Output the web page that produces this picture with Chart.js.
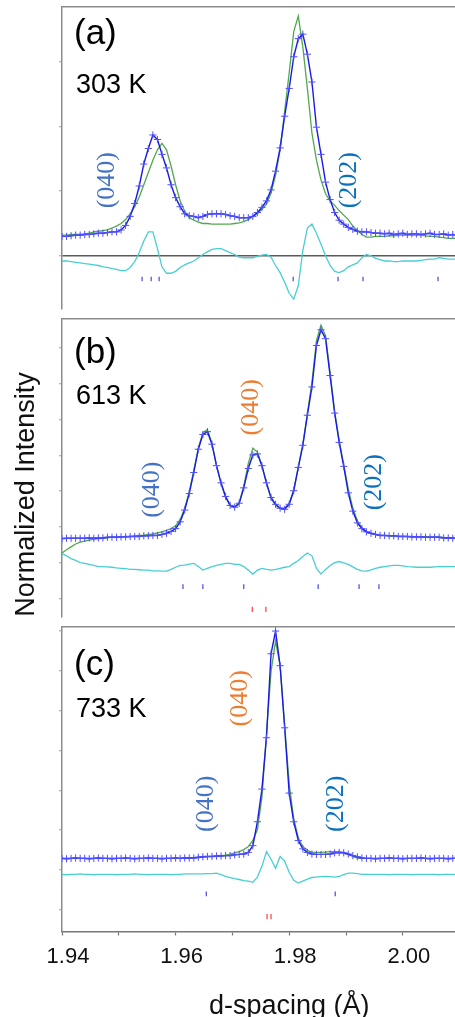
<!DOCTYPE html>
<html><head><meta charset="utf-8">
<script src="https://cdn.jsdelivr.net/npm/chart.js@4.4.1/dist/chart.umd.min.js"></script>
<style>
html,body{margin:0;padding:0;background:#fff;overflow:hidden;}
#wrap{position:relative;width:455px;height:1017px;overflow:hidden;background:#fff;}
#wrap canvas{position:absolute;left:0;}
</style></head><body>
<div id="wrap">
<canvas id="cA" width="560" height="314" style="top:0px"></canvas>
<canvas id="cB" width="560" height="308" style="top:314px"></canvas>
<canvas id="cC" width="560" height="401" style="top:622px"></canvas>
</div>
<script>
const xTickValues = [1.94,1.95,1.96,1.97,1.98,1.99,2.00,2.01,2.02];
const xTickLabels = ['1.94','','1.96','','1.98','','2.00','','2.02'];
const xTitle = 'd-spacing (Å)';
const yTitle = 'Normalized Intensity';

const dSpacing = [
1.9400,1.9408,1.9416,1.9424,1.9432,1.9440,1.9448,1.9456,1.9464,1.9472,
1.9480,1.9488,1.9496,1.9504,1.9512,1.9520,1.9528,1.9536,1.9544,1.9552,
1.9560,1.9568,1.9576,1.9584,1.9592,1.9600,1.9608,1.9616,1.9624,1.9632,
1.9640,1.9648,1.9656,1.9664,1.9672,1.9680,1.9688,1.9696,1.9704,1.9712,
1.9720,1.9728,1.9736,1.9744,1.9752,1.9760,1.9768,1.9776,1.9784,1.9792,
1.9800,1.9808,1.9816,1.9824,1.9832,1.9840,1.9848,1.9856,1.9864,1.9872,
1.9880,1.9888,1.9896,1.9904,1.9912,1.9920,1.9928,1.9936,1.9944,1.9952,
1.9960,1.9968,1.9976,1.9984,1.9992,2.0000,2.0008,2.0016,2.0024,2.0032,
2.0040,2.0048,2.0056,2.0064,2.0072,2.0080,2.0088,2.0096,2.0104];

// Panel (a) 303 K
const obsA = [
0.30,0.30,0.31,0.32,0.32,0.33,0.33,0.34,0.35,0.35,
0.36,0.37,0.37,0.40,0.47,0.61,0.81,1.08,1.42,1.66,
1.87,1.80,1.57,1.36,1.10,0.90,0.76,0.65,0.62,0.61,
0.59,0.61,0.64,0.65,0.65,0.65,0.64,0.62,0.61,0.59,
0.59,0.59,0.61,0.67,0.75,0.85,1.02,1.31,1.67,2.16,
2.59,3.08,3.36,3.43,3.12,2.69,1.99,1.57,1.14,0.87,
0.67,0.55,0.49,0.44,0.41,0.38,0.37,0.37,0.36,0.35,
0.35,0.34,0.35,0.33,0.34,0.35,0.33,0.34,0.34,0.33,
0.34,0.35,0.33,0.33,0.34,0.32,0.33,0.32,0.32];
const calcA = [
0.32,0.32,0.33,0.33,0.33,0.34,0.35,0.37,0.38,0.39,
0.40,0.43,0.46,0.50,0.56,0.65,0.76,0.91,1.10,1.29,
1.48,1.64,1.74,1.64,1.39,1.10,0.85,0.69,0.59,0.55,
0.52,0.50,0.50,0.49,0.49,0.49,0.49,0.49,0.50,0.51,
0.53,0.56,0.61,0.65,0.72,0.80,0.97,1.25,1.64,2.24,
2.83,3.47,3.71,3.23,2.59,1.90,1.48,1.17,0.96,0.85,
0.78,0.70,0.63,0.56,0.46,0.39,0.33,0.29,0.29,0.30,
0.30,0.30,0.31,0.31,0.32,0.32,0.32,0.32,0.32,0.32,
0.31,0.30,0.30,0.29,0.28,0.27,0.27,0.27,0.27];
const diffA = [
-0.08,-0.08,-0.09,-0.10,-0.11,-0.12,-0.13,-0.14,-0.15,-0.17,
-0.18,-0.20,-0.21,-0.23,-0.23,-0.18,-0.09,0.05,0.23,0.37,
0.37,0.11,-0.17,-0.27,-0.27,-0.24,-0.18,-0.14,-0.11,-0.08,
-0.03,0.02,0.06,0.10,0.11,0.11,0.08,0.05,0.02,-0.02,
-0.03,-0.03,-0.03,-0.01,0.01,0.02,-0.02,-0.15,-0.26,-0.41,
-0.58,-0.67,-0.46,0.08,0.43,0.49,0.35,0.18,0.00,-0.15,
-0.24,-0.26,-0.23,-0.17,-0.14,-0.11,-0.03,0.02,0.00,-0.04,
-0.06,-0.08,-0.08,-0.09,-0.09,-0.08,-0.08,-0.08,-0.08,-0.07,
-0.06,-0.05,-0.05,-0.03,-0.04,-0.05,-0.05,-0.05,-0.05];
const reflBlueA = [1.9541,1.9557,1.9571,1.9807,1.9886,1.9930,2.0062];
const reflRedA = [];

// Panel (b) 613 K
const obsB = [
1.67,1.68,1.68,1.68,1.68,1.68,1.69,1.68,1.69,1.69,
1.71,1.71,1.71,1.72,1.72,1.73,1.73,1.73,1.75,1.75,
1.76,1.76,1.79,1.82,1.87,1.95,2.14,2.47,2.93,3.52,
4.17,4.58,4.66,4.31,3.71,3.23,2.85,2.60,2.55,2.66,
3.09,3.63,4.01,4.04,3.71,3.23,2.82,2.63,2.52,2.49,
2.63,3.01,3.66,4.28,5.12,5.91,7.07,7.51,7.26,6.23,
5.18,4.36,3.69,2.95,2.44,2.11,1.95,1.86,1.82,1.79,
1.76,1.76,1.75,1.75,1.73,1.73,1.73,1.72,1.72,1.72,
1.71,1.71,1.71,1.71,1.69,1.69,1.68,1.68,1.68];
const calcB = [
1.27,1.36,1.44,1.52,1.57,1.60,1.63,1.65,1.67,1.68,
1.69,1.71,1.71,1.72,1.73,1.73,1.75,1.76,1.77,1.79,
1.80,1.83,1.86,1.90,1.95,2.03,2.20,2.52,2.98,3.58,
4.20,4.63,4.72,4.34,3.71,3.20,2.82,2.60,2.55,2.68,
3.14,3.77,4.20,4.09,3.71,3.20,2.79,2.60,2.52,2.52,
2.66,3.04,3.66,4.31,5.18,6.04,7.21,7.64,7.34,6.31,
5.23,4.42,3.74,3.06,2.52,2.17,1.98,1.87,1.82,1.79,
1.77,1.76,1.75,1.75,1.74,1.74,1.73,1.73,1.72,1.72,
1.72,1.71,1.71,1.71,1.70,1.70,1.69,1.69,1.69];
const diffB = [
1.25,1.19,1.11,1.06,1.00,0.98,0.95,0.92,0.89,0.89,
0.88,0.87,0.85,0.84,0.83,0.81,0.81,0.80,0.79,0.79,
0.77,0.77,0.76,0.76,0.81,0.87,0.92,0.93,0.96,0.98,
0.89,0.79,0.84,0.89,0.92,0.95,0.98,0.98,0.95,0.95,
0.89,0.79,0.68,0.79,0.84,0.81,0.79,0.81,0.84,0.87,
0.89,0.98,1.06,1.17,1.27,1.19,0.84,0.68,0.81,0.92,
1.00,1.03,0.99,0.95,0.88,0.81,0.77,0.76,0.80,0.84,
0.87,0.89,0.91,0.92,0.92,0.91,0.89,0.88,0.87,0.87,
0.87,0.87,0.88,0.89,0.89,0.89,0.89,0.89,0.89];
const reflBlueB = [1.9613,1.9648,1.9720,1.9851,1.9923,1.9958];
const reflRedB = [1.9735,1.9759];

// Panel (c) 733 K
const obsC = [
1.29,1.28,1.29,1.30,1.29,1.29,1.28,1.29,1.30,1.29,
1.29,1.28,1.29,1.29,1.30,1.29,1.28,1.29,1.29,1.30,
1.29,1.29,1.28,1.29,1.29,1.30,1.29,1.30,1.30,1.30,
1.32,1.33,1.34,1.34,1.35,1.35,1.36,1.36,1.38,1.39,
1.40,1.44,1.61,2.21,3.03,4.32,6.43,7.00,6.13,4.57,
2.93,2.21,1.74,1.53,1.44,1.40,1.39,1.39,1.39,1.40,
1.43,1.44,1.43,1.40,1.36,1.33,1.30,1.29,1.29,1.28,
1.29,1.29,1.30,1.29,1.29,1.28,1.29,1.29,1.29,1.30,
1.29,1.28,1.29,1.29,1.29,1.28,1.29,1.29,1.29];
const calcC = [
1.29,1.29,1.29,1.29,1.29,1.29,1.29,1.29,1.29,1.29,
1.29,1.29,1.29,1.29,1.29,1.29,1.29,1.29,1.29,1.29,
1.29,1.29,1.29,1.29,1.29,1.29,1.29,1.30,1.30,1.31,
1.31,1.32,1.33,1.33,1.34,1.36,1.37,1.40,1.43,1.46,
1.51,1.59,1.74,2.01,2.83,4.44,5.98,6.75,6.13,4.64,
3.15,2.28,1.81,1.59,1.49,1.44,1.44,1.44,1.45,1.46,
1.46,1.46,1.44,1.39,1.34,1.30,1.29,1.29,1.29,1.29,
1.29,1.29,1.29,1.29,1.29,1.29,1.29,1.29,1.29,1.29,
1.29,1.29,1.29,1.29,1.29,1.29,1.29,1.29,1.29];
const diffC = [
0.89,0.88,0.89,0.89,0.90,0.89,0.89,0.88,0.89,0.89,
0.89,0.89,0.88,0.89,0.89,0.89,0.90,0.89,0.89,0.88,
0.89,0.89,0.89,0.89,0.88,0.89,0.89,0.90,0.90,0.90,
0.90,0.90,0.91,0.91,0.92,0.88,0.84,0.81,0.78,0.76,
0.73,0.72,0.69,0.82,1.09,1.46,1.27,1.04,1.34,1.22,
0.94,0.74,0.67,0.72,0.77,0.81,0.82,0.83,0.84,0.83,
0.82,0.84,0.88,0.92,0.92,0.91,0.89,0.89,0.89,0.89,
0.89,0.89,0.88,0.89,0.89,0.89,0.89,0.88,0.89,0.89,
0.89,0.89,0.89,0.88,0.89,0.89,0.89,0.89,0.89];
const reflBlueC = [1.9654,1.9881];
const reflRedC = [1.9761,1.9768];

// reflection marker levels (intensity units of each panel)
const reflLevels = { A:[-0.36,0], B:[0.33,-0.31], C:[0.40,-0.17] };

// y-axis ranges and tick values
const yTicksA = [0,1,2,3];
const yTicksB = [0,1,2,3,4,5,6,7];
const yTicksC = [0,1,2,3,4,5,6,7];
const yRangeA = [-0.82,3.85];
const yRangeB = [-0.515,7.805];
const yRangeC = [-0.546,7.097];

// annotation texts
const panelLabels = ['(a)','(b)','(c)'];
const tempLabels = ['303 K','613 K','733 K'];
const hklA = [{text:'(040)',d:1.9480,v:1.17,color:'#4472c4'},{text:'(202)',d:1.9905,v:1.17,color:'#0a70bf'}];
const hklB = [{text:'(040)',d:1.9558,v:3.04,color:'#4472c4'},{text:'(040)',d:1.9733,v:5.34,color:'#ed7d31'},{text:'(202)',d:1.9949,v:3.25,color:'#0a70bf'}];
const hklC = [{text:'(040)',d:1.9654,v:2.66,color:'#4472c4'},{text:'(040)',d:1.9713,v:5.31,color:'#ed7d31'},{text:'(202)',d:1.9882,v:2.66,color:'#0a70bf'}];

// ---------- drawing ----------
Chart.defaults.font.family = '"Liberation Sans", Arial, Helvetica, sans-serif';
const FRAME = '#8c8c8c';
function pts(xs, ys){ return xs.map((x,i)=>({x:x, y:ys[i]})); }
function refl(ds, level){ return ds.map(d=>({x:d, y:level})); }

function textPlugin(idx, hkl, layout){
  return {
    id:'panelText'+idx,
    afterDatasetsDraw(chart){
      const ctx = chart.ctx, a = chart.chartArea, sx = chart.scales.x, sy = chart.scales.y;
      ctx.save();
      ctx.fillStyle = '#000';
      ctx.textAlign = 'left'; ctx.textBaseline = 'alphabetic';
      ctx.font = '35px "Liberation Sans", Arial, sans-serif';
      ctx.fillText(panelLabels[idx], a.left + layout.panel[0], a.top + layout.panel[1]);
      ctx.font = '27px "Liberation Sans", Arial, sans-serif';
      ctx.fillText(tempLabels[idx], a.left + layout.temp[0], a.top + layout.temp[1]);
      ctx.font = '26px "Liberation Serif", "Times New Roman", serif';
      ctx.textAlign = 'center'; ctx.textBaseline = 'middle';
      hkl.forEach(h=>{
        ctx.save();
        ctx.translate(sx.getPixelForValue(h.d), sy.getPixelForValue(h.v));
        ctx.rotate(-Math.PI/2);
        ctx.fillStyle = h.color;
        ctx.fillText(h.text, 0, 0);
        ctx.restore();
      });
      ctx.restore();
    }
  };
}

function makeChart(id, o){
  const datasets = [
    {label:'Calculated', data:pts(dSpacing,o.calc), borderColor:'#52a84c', borderWidth:1.3, pointRadius:0, tension:0, order:3, xAxisID:'x', yAxisID:'y'},
    {label:'Observed', data:pts(dSpacing,o.obs), borderColor:'#1a1ae8', borderWidth:1.4, pointStyle:'cross', pointRadius:3.6, pointBorderColor:'#4f4fff', pointBackgroundColor:'#4f4fff', pointBorderWidth:1, tension:0, order:1, xAxisID:'x', yAxisID:'y'},
    {label:'Difference', data:pts(dSpacing,o.diff), borderColor:'#48cfd3', borderWidth:1.3, pointRadius:0, tension:0, order:4, xAxisID:'x', yAxisID:'y'},
    {label:'Reflections 1', data:refl(o.reflBlue,o.levels[0]), showLine:false, pointStyle:'line', pointRotation:90, pointRadius:2.3, pointBorderColor:'#4646e0', pointBorderWidth:1.2, order:0, xAxisID:'x', yAxisID:'y'},
    {label:'Reflections 2', data:refl(o.reflRed,o.levels[1]), showLine:false, pointStyle:'line', pointRotation:90, pointRadius:2.6, pointBorderColor:'#ff3b3b', pointBorderWidth:1.2, order:0, xAxisID:'x', yAxisID:'y'}
  ];
  return new Chart(document.getElementById(id), {
    type:'line',
    data:{datasets:datasets},
    options:{
      responsive:false, animation:false, devicePixelRatio:1, events:[],
      layout:{padding:{left:o.padL, right:43.6, top:o.padT, bottom:0}},
      plugins:{legend:{display:false}, tooltip:{enabled:false}},
      scales:{
        x:{type:'linear', min:xTickValues[0], max:xTickValues[xTickValues.length-1], display:o.showX,
           afterBuildTicks:s=>{ s.ticks = xTickValues.map(v=>({value:v})); },
           ticks:{autoSkip:false, maxRotation:0, minRotation:0, padding:8, labelOffset:6, color:'#111', font:{size:22}, callback:(v,i)=>xTickLabels[i]},
           grid:{display:true, drawOnChartArea:false, tickLength:4, tickColor:'#777', tickWidth:1.2},
           border:{display:true, color:'#777', width:1.5},
           title:{display:o.showX, text:xTitle, color:'#111', font:{size:27}, padding:{top:12.7,bottom:0}}},
        xTop:{type:'linear', position:'top', min:xTickValues[0], max:xTickValues[xTickValues.length-1],
           grid:{display:false, drawTicks:false, tickLength:0}, ticks:{display:false}, border:{display:true, color:FRAME, width:1.5}},
        y:{type:'linear', position:'left', min:o.yRange[0], max:o.yRange[1], bounds:'data',
           afterBuildTicks:s=>{ s.ticks = o.yTicks.map(v=>({value:v})); },
           ticks:{display:false},
           grid:{drawOnChartArea:!!o.zeroLine, tickLength:3, tickColor:'#a0a0a0', tickWidth:1,
                 color:c=>(o.zeroLine && c.tick && c.tick.value===0) ? '#5a5a5a' : 'rgba(0,0,0,0)', lineWidth:1.5},
           border:{display:true, color:FRAME, width:1.5},
           title:{display:!!o.yTitle, text:o.yTitle||'', align:'start', color:'#111', font:{size:27}, padding:{top:4,bottom:15.8}}}
      }
    },
    plugins:[textPlugin(o.idx, o.hkl, o.textPos)]
  });
}

makeChart('cA', {idx:0, obs:obsA, calc:calcA, diff:diffA, reflBlue:reflBlueA, reflRed:reflRedA, levels:reflLevels.A,
  yTicks:yTicksA, yRange:yRangeA, zeroLine:true, showX:false, padL:59, padT:7, hkl:hklA,
  textPos:{panel:[12,37], temp:[14,86]}});
makeChart('cB', {idx:1, obs:obsB, calc:calcB, diff:diffB, reflBlue:reflBlueB, reflRed:reflRedB, levels:reflLevels.B,
  yTicks:yTicksB, yRange:yRangeB, zeroLine:false, showX:false, padL:6.8, padT:1, yTitle:yTitle, hkl:hklB,
  textPos:{panel:[12,44], temp:[14,85]}});
makeChart('cC', {idx:2, obs:obsC, calc:calcC, diff:diffC, reflBlue:reflBlueC, reflRed:reflRedC, levels:reflLevels.C,
  yTicks:yTicksC, yRange:yRangeC, zeroLine:false, showX:true, padL:59, padT:1, hkl:hklC,
  textPos:{panel:[12,48], temp:[14,90]}});
</script>
</body></html>
